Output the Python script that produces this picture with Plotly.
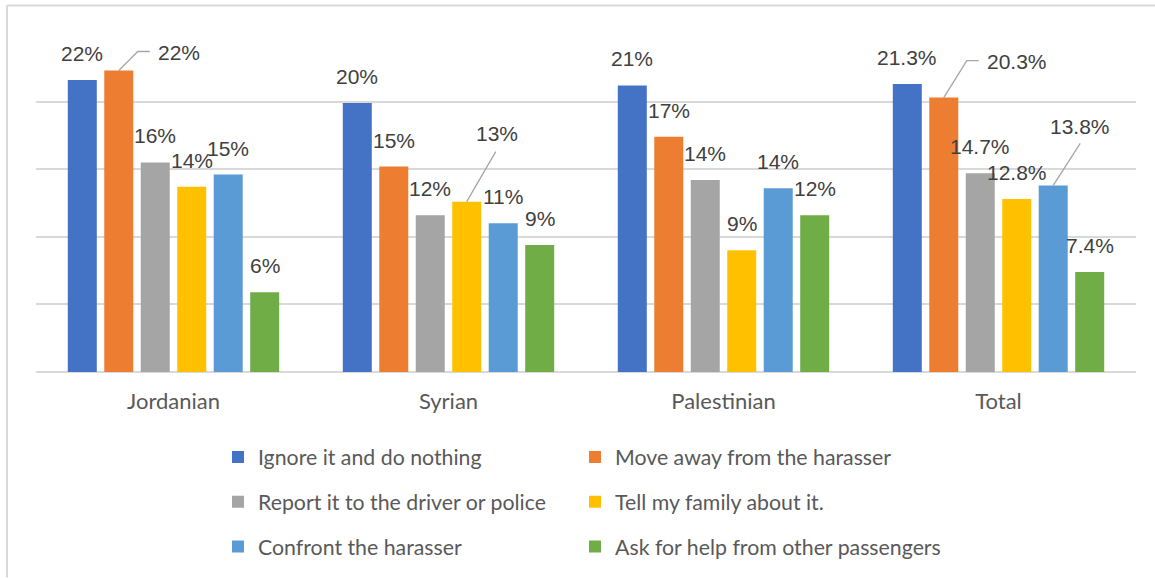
import plotly.graph_objects as go

# ---------------- data ----------------
categories = ["Jordanian", "Syrian", "Palestinian", "Total"]
series_names = [
    "Ignore it and do nothing",
    "Move away from the harasser",
    "Report it to the driver or police",
    "Tell my family about it.",
    "Confront the harasser",
    "Ask for help from other passengers",
]
ignore = [21.6, 19.9, 21.2, 21.3]
move_away = [22.3, 15.2, 17.4, 20.3]
report = [15.5, 11.6, 14.2, 14.7]
tell_family = [13.7, 12.6, 9.0, 12.8]
confront = [14.6, 11.0, 13.6, 13.8]
ask_help = [5.9, 9.4, 11.6, 7.4]

ignore_labels = ["22%", "20%", "21%", "21.3%"]
move_away_labels = ["22%", "15%", "17%", "20.3%"]
report_labels = ["16%", "12%", "14%", "14.7%"]
tell_family_labels = ["14%", "13%", "9%", "12.8%"]
confront_labels = ["15%", "11%", "14%", "13.8%"]
ask_help_labels = ["6%", "9%", "12%", "7.4%"]

values = [ignore, move_away, report, tell_family, confront, ask_help]
labels = [ignore_labels, move_away_labels, report_labels,
          tell_family_labels, confront_labels, ask_help_labels]

# ---------------- style ----------------
colors = ["#4472C4", "#ED7D31", "#A5A5A5", "#FFC000", "#5B9BD5", "#70AD47"]
legend_of = ["legend", "legend2", "legend", "legend2", "legend", "legend2"]
BARGAP = 0.204
BARGROUPGAP = 0.205
LABEL_UP = 26.5
# (series, category): (dx px, up px, leader path in px relative to bar top)
nudges = {
    (1, 0): (60, 18, "M0,0 L19,19 L31,19"),
    (3, 1): (30, 68, "M0,0 L29,50"),
    (1, 3): (73, 36, "M0,0 L23,37 L35,37"),
    (4, 3): (27, 59, "M0,0 L27,42"),
}

W, H = 1155, 579
ML, MR, MT, MB = 36, 19, 34, 206

fig = go.Figure()
for s, (name, vals) in enumerate(zip(series_names, values)):
    fig.add_trace(go.Bar(
        x=categories, y=vals, name=name,
        marker=dict(color=colors[s], line=dict(width=0)),
        legend=legend_of[s], legendgroup=name,
        hoverinfo="skip",
    ))

nser = len(series_names)
slot = (1 - BARGAP) / nser
annotations = []
shapes = []
for s in range(nser):
    for c in range(len(categories)):
        xpos = c + (s - (nser - 1) / 2) * slot
        dx, up, path = nudges.get((s, c), (0, LABEL_UP, None))
        annotations.append(dict(
            x=xpos, y=values[s][c], xref="x", yref="y",
            text=labels[s][c], showarrow=False,
            xanchor="center", yanchor="middle",
            xshift=dx, yshift=up,
            font=dict(family="Liberation Sans, Arial", size=21, color="#404040"),
        ))
        if path:
            shapes.append(dict(
                type="path", xref="x", yref="y",
                xsizemode="pixel", ysizemode="pixel",
                xanchor=xpos, yanchor=values[s][c],
                path=path, line=dict(color="#A6A6A6", width=1.3),
            ))

pw = W - ML - MR
ph = H - MT - MB
# chart-area border (top and left edges)
top_y = (H - MB - 5.5) / ph
left_x = (7 - ML) / pw
shapes.append(dict(type="line", xref="paper", yref="paper",
                   x0=left_x, x1=(W - ML) / pw, y0=top_y, y1=top_y,
                   line=dict(color="#D9D9D9", width=2)))
shapes.append(dict(type="line", xref="paper", yref="paper",
                   x0=left_x, x1=left_x, y0=top_y, y1=-(MB) / ph,
                   line=dict(color="#D9D9D9", width=2)))

legend_font = dict(family="Lato, Inter, sans-serif", size=21.3, color="#595959")
leg_common = dict(orientation="v", traceorder="grouped", tracegroupgap=14,
                  bgcolor="rgba(0,0,0,0)", borderwidth=0, font=legend_font,
                  xanchor="left", yanchor="top", itemclick=False,
                  itemdoubleclick=False)

fig.update_layout(
    width=W, height=H,
    margin=dict(l=ML, r=MR, t=MT, b=MB, pad=0),
    paper_bgcolor="white", plot_bgcolor="white",
    barmode="group", bargap=BARGAP, bargroupgap=BARGROUPGAP,
    showlegend=True,
    legend=dict(x=(218 - ML) / pw, y=-0.188, **leg_common),
    legend2=dict(x=(575 - ML) / pw, y=-0.188, **leg_common),
    xaxis=dict(
        type="category", showgrid=False, showline=False, ticks="",
        tickfont=dict(family="Lato, Inter, sans-serif", size=22, color="#595959"),
        ticklabelstandoff=14, fixedrange=True,
    ),
    yaxis=dict(
        range=[0, 25], dtick=5, showticklabels=False, ticks="",
        showgrid=True, gridcolor="#D9D9D9", gridwidth=2,
        zeroline=True, zerolinecolor="#D9D9D9", zerolinewidth=2,
        fixedrange=True,
    ),
    annotations=annotations,
    shapes=shapes,
)

fig.write_html("out.html", config={"displayModeBar": False})
